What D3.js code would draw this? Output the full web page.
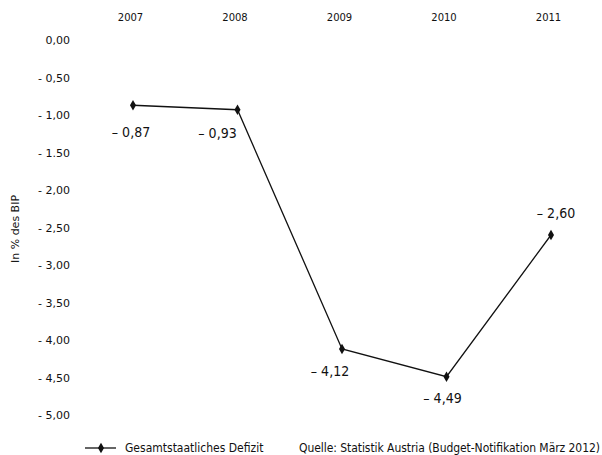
<!DOCTYPE html>
<html><head><meta charset="utf-8">
<script src="https://cdn.jsdelivr.net/npm/d3@7"></script>
<style>body{margin:0;background:#fff}svg{display:block}text{font-family:"DejaVu Sans Condensed","DejaVu Sans",sans-serif;fill:#111}</style>
</head><body>
<svg id="c" width="602" height="455"></svg>
<script>
const years = ["2007","2008","2009","2010","2011"];
const deficit = [-0.87, -0.93, -4.12, -4.49, -2.60];
const valueLabels = ["\u2013 0,87","\u2013 0,93","\u2013 4,12","\u2013 4,49","\u2013 2,60"];
const yTicks = [0,-0.5,-1,-1.5,-2,-2.5,-3,-3.5,-4,-4.5,-5];
const yTickLabels = ["0,00","- 0,50","- 1,00","- 1.50","- 2,00","- 2,50","- 3,00","- 3,50","- 4,00","- 4,50","- 5,00"];
const seriesName = "Gesamtstaatliches Defizit";
const sourceText = "Quelle: Statistik Austria (Budget-Notifikation M\u00e4rz 2012)";
const axisTitle = "In % des BIP";

const svg = d3.select("#c");
const x = d3.scalePoint().domain(years).range([133, 551]);
const y = d3.scaleLinear().domain([0, -5]).range([40, 415]);

// year labels (top axis)
const xAxis = d3.axisTop(x).tickSize(0).tickPadding(0);
const gx = svg.append("g").attr("transform","translate(-3,21)").call(xAxis);
gx.select(".domain").remove();
gx.selectAll("text").style("font-family","'DejaVu Sans',sans-serif").style("font-size","10px").attr("fill","#111");

// y axis labels
const yAxis = d3.axisLeft(y).tickValues(yTicks).tickSize(0).tickPadding(0)
  .tickFormat((d,i)=>yTickLabels[i]);
const gy = svg.append("g").attr("transform","translate(70,0)").call(yAxis);
gy.select(".domain").remove();
gy.selectAll("text").style("font-family","'DejaVu Sans',sans-serif").style("font-size","11px").attr("fill","#111");

svg.append("text").attr("transform","translate(19,229) rotate(-90)")
  .attr("text-anchor","middle").style("font-family","'DejaVu Sans',sans-serif").style("font-size","11px").text(axisTitle);

// line
const line = d3.line().x((d,i)=>x(years[i])).y(d=>y(d));
svg.append("path").datum(deficit).attr("d",line).attr("fill","none")
  .attr("stroke","#111").attr("stroke-width",1.3);

const diamond = d3.symbol().type(d3.symbolDiamond).size(32);
svg.selectAll(".pt").data(deficit).join("path").attr("class","pt")
  .attr("d",diamond).attr("transform",(d,i)=>`translate(${x(years[i])},${y(d)})`)
  .attr("fill","#111");

// value labels
const lblOff = [[-2,32],[-20,28],[-12,27],[-4,26],[5,-17]];
svg.selectAll(".vl").data(deficit).join("text").attr("class","vl")
  .attr("x",(d,i)=>x(years[i])+lblOff[i][0]).attr("y",(d,i)=>y(d)+lblOff[i][1])
  .attr("text-anchor","middle").style("font-size","14px").text((d,i)=>valueLabels[i]);

// legend
svg.append("line").attr("x1",85).attr("x2",116).attr("y1",448).attr("y2",448)
  .attr("stroke","#111").attr("stroke-width",1.3);
svg.append("path").attr("d",diamond).attr("transform","translate(101,448)").attr("fill","#111");
svg.append("text").attr("x",125).attr("y",452).style("font-size","12px").text(seriesName);
svg.append("text").attr("x",299).attr("y",452).style("font-size","12px").attr("textLength",301).text(sourceText);
</script>
</body></html>
